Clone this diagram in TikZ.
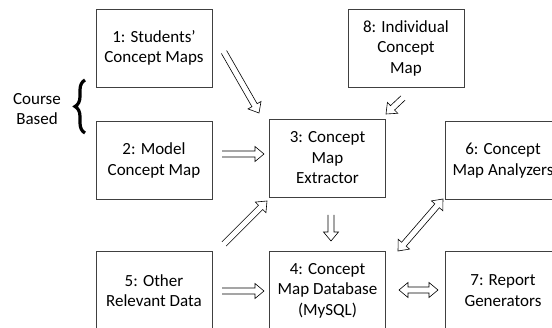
\documentclass[tikz,border=0pt]{standalone}
\usepackage{fontspec}
\setmainfont{Carlito}
\usetikzlibrary{calc,decorations.pathreplacing}
\newcommand{\openarrow}[2]{%
  \coordinate (hB) at ($(#2)!9pt!(#1)$);
  \draw[arr] ($(#1)!3pt!90:(#2)$) -- ($(hB)!3pt!-90:(#1)$) -- ($(hB)!7.5pt!-90:(#1)$) -- (#2)
    -- ($(hB)!7.5pt!90:(#1)$) -- ($(hB)!3pt!90:(#1)$) -- ($(#1)!3pt!-90:(#2)$);
}
\newcommand{\biarrow}[2]{%
  \coordinate (hA) at ($(#1)!9pt!(#2)$);
  \coordinate (hB) at ($(#2)!9pt!(#1)$);
  \draw[arr] (#1) -- ($(hA)!7.5pt!90:(#2)$) -- ($(hA)!3pt!90:(#2)$) -- ($(hB)!3pt!-90:(#1)$)
    -- ($(hB)!7.5pt!-90:(#1)$) -- (#2) -- ($(hB)!7.5pt!90:(#1)$) -- ($(hB)!3pt!90:(#1)$)
    -- ($(hA)!3pt!-90:(#2)$) -- ($(hA)!7.5pt!-90:(#2)$) -- cycle;
}
\begin{document}
\begin{tikzpicture}[x=1pt,y=-1pt,
  txt/.style={align=center, font=\fontsize{17}{20.5}\selectfont, inner sep=0pt},
  box/.style={txt, draw=black!75, line width=0.8pt, minimum width=116pt, minimum height=78pt},
  arr/.style={draw=black, line width=0.6pt, line join=miter}]
\clip (0,0) rectangle (552,328);
% boxes
\node[box] (b1) at (154,48) {1: Students'\\Concept Maps};
\node[box] (b2) at (154,160.5) {2: Model\\Concept Map};
\node[box] (b5) at (154,290.5) {5: Other\\Relevant Data};
\node[box] (b8) at (406,48) {8: Individual\\Concept\\Map};
\node[box] (b3) at (327.5,158) {3: Concept\\Map\\Extractor};
\node[box] (b6) at (503,160.5) {6: Concept\\Map Analyzers};
\node[box] (b4) at (327.5,290.5) {4: Concept\\Map Database\\(MySQL)};
\node[box] (b7) at (503,290.5) {7: Report\\Generators};
% course based label and brace
\node[txt] (course) at (37,109) {Course\\Based};
\draw[decorate, decoration={brace, amplitude=10pt}, line width=3.2pt] (85,133) -- (85,80);
% arrow end points
\coordinate (a13s) at (224,52);  \coordinate (a13e) at (259,113);
\coordinate (a23s) at (222,154); \coordinate (a23e) at (264,154);
\coordinate (a83s) at (403,98);  \coordinate (a83e) at (386,114);
\coordinate (a34s) at (331,215); \coordinate (a34e) at (331,241);
\coordinate (a53s) at (224,244); \coordinate (a53e) at (267,201);
\coordinate (a54s) at (222,291); \coordinate (a54e) at (264,291);
\coordinate (a47s) at (399,290); \coordinate (a47e) at (438,290);
\coordinate (a46s) at (398,251); \coordinate (a46e) at (443,199);
\openarrow{a13s}{a13e}
\openarrow{a23s}{a23e}
\openarrow{a83s}{a83e}
\openarrow{a34s}{a34e}
\openarrow{a53s}{a53e}
\openarrow{a54s}{a54e}
\biarrow{a47s}{a47e}
\biarrow{a46s}{a46e}
\end{tikzpicture}
\end{document}
